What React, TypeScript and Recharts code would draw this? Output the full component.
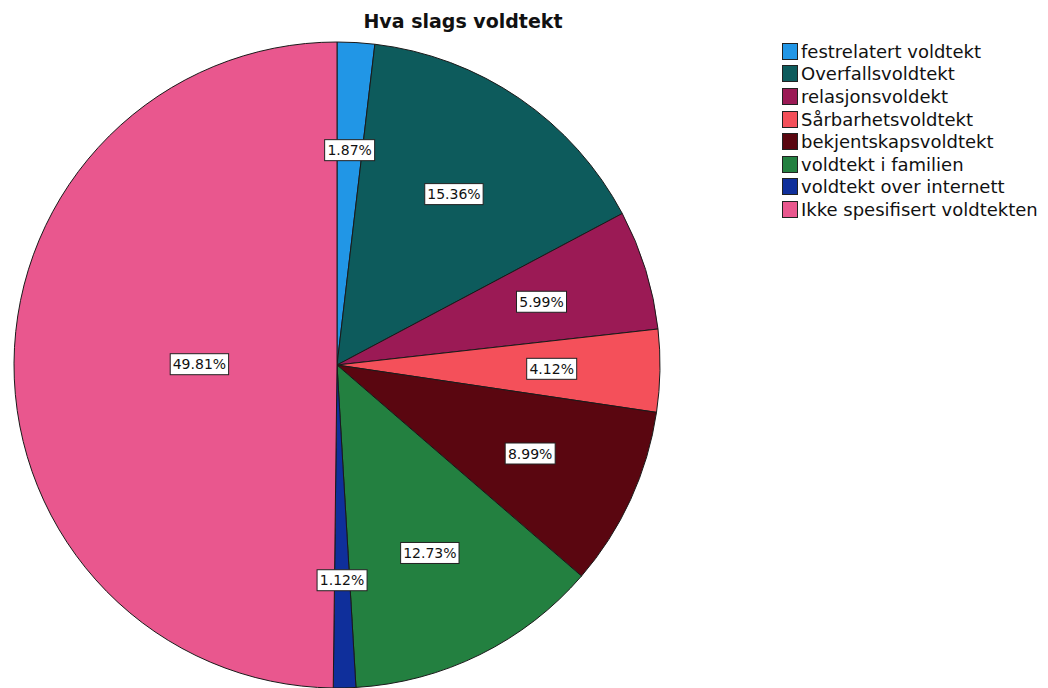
import { Cell, Legend, Pie, PieChart } from "recharts";

const categories = [
  "festrelatert voldtekt",
  "Overfallsvoldtekt",
  "relasjonsvoldekt",
  "Sårbarhetsvoldtekt",
  "bekjentskapsvoldtekt",
  "voldtekt i familien",
  "voldtekt over internett",
  "Ikke spesifisert voldtekten",
];

const shares = [1.87, 15.36, 5.99, 4.12, 8.99, 12.73, 1.12, 49.81];

const colors = [
  "#2196e6",
  "#0d5b5c",
  "#9b1a55",
  "#f4505a",
  "#5a0610",
  "#238040",
  "#0f2f9b",
  "#e9578e",
];

const data = categories.map((name, i) => ({ name, value: shares[i] }));

const FONT = "'DejaVu Sans', Verdana, sans-serif";
const RAD = Math.PI / 180;

// label sits on the sector's centroid, like the SPSS output
function SliceLabel(props: any) {
  const { cx, cy, midAngle, outerRadius, percent, value } = props;
  const half = Math.max(percent * Math.PI, 0.0001);
  const r = ((2 / 3) * outerRadius * Math.sin(half)) / half;
  const x = cx + r * Math.cos(-midAngle * RAD);
  const y = cy + r * Math.sin(-midAngle * RAD);
  const text = `${value.toFixed(2)}%`;
  const w = text.length * 8.4 + 8;
  const h = 21;
  return (
    <g>
      <rect
        x={x - w / 2}
        y={y - h / 2}
        width={w}
        height={h}
        fill="#ffffff"
        stroke="#222"
        strokeWidth={1}
      />
      <text
        x={x}
        y={y + 1}
        textAnchor="middle"
        dominantBaseline="middle"
        fontFamily={FONT}
        fontSize={14}
        fill="#111"
      >
        {text}
      </text>
    </g>
  );
}

// legend drawn in data order (recharts would sort it by name)
function LegendBox() {
  return (
    <div style={{ fontFamily: FONT, fontSize: 18, color: "#111" }}>
      {categories.map((name, i) => (
        <div
          key={name}
          style={{ display: "flex", alignItems: "center", height: 22.6 }}
        >
          <span
            style={{
              width: 14,
              height: 15,
              background: colors[i],
              border: "1px solid #222",
              marginRight: 3,
              display: "inline-block",
              flexShrink: 0,
            }}
          />
          <span style={{ whiteSpace: "nowrap" }}>{name}</span>
        </div>
      ))}
    </div>
  );
}

export default function App() {
  return (
    <div
      style={{
        position: "absolute",
        left: 0,
        top: 0,
        width: 1048,
        height: 688,
        background: "#fff",
        overflow: "hidden",
      }}
    >
      <div
        style={{
          position: "absolute",
          left: 0,
          top: 10,
          width: 926,
          textAlign: "center",
          fontFamily: FONT,
          fontWeight: "bold",
          fontSize: 19,
          color: "#111",
        }}
      >
        Hva slags voldtekt
      </div>
      <PieChart
        width={1048}
        height={688}
        margin={{ top: 0, right: 0, bottom: 0, left: 0 }}
      >
        <Pie
          data={data}
          dataKey="value"
          nameKey="name"
          cx={337}
          cy={365}
          outerRadius={323}
          startAngle={90}
          endAngle={-270}
          stroke="#1a1a1a"
          strokeWidth={1}
          label={SliceLabel}
          labelLine={false}
          isAnimationActive={false}
        >
          {data.map((d, i) => (
            <Cell key={d.name} fill={colors[i]} />
          ))}
        </Pie>
        <Legend
          layout="vertical"
          align="right"
          verticalAlign="top"
          content={LegendBox}
          wrapperStyle={{ left: 782, top: 40, width: 266 }}
        />
      </PieChart>
    </div>
  );
}
